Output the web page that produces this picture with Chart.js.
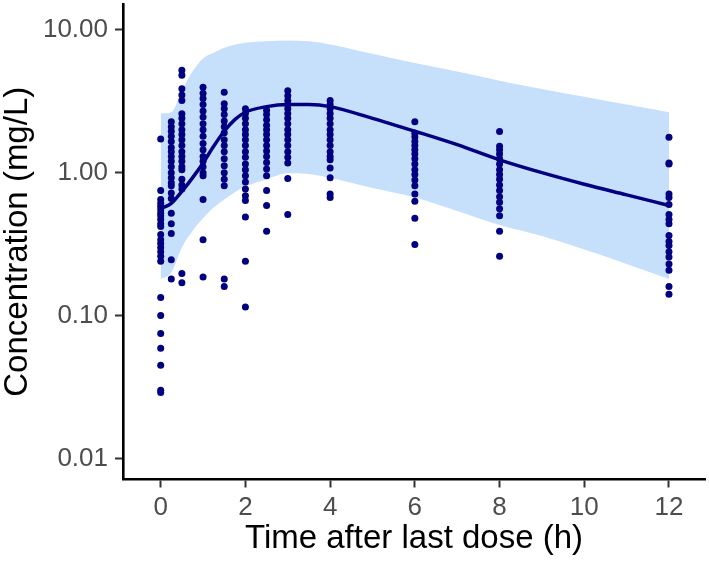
<!DOCTYPE html>
<html>
<head>
<meta charset="utf-8">
<script src="https://cdn.jsdelivr.net/npm/chart.js@4/dist/chart.umd.min.js"></script>
<style>
  html, body { margin: 0; padding: 0; background: #fff; }
  #pkChart { display: block; }
</style>
</head>
<body>
<canvas id="pkChart" width="709" height="561"></canvas>
<script>
// observed concentrations (mg/L) at each nominal sampling time (h)
const obsTimes = [0, 0.25, 0.5, 1, 1.5, 2, 2.5, 3, 4, 6, 8, 12];
const obsConc = [
  [1.72, 0.75, 0.65, 0.61, 0.58, 0.55, 0.52, 0.50, 0.47, 0.44, 0.42, 0.37, 0.34, 0.32, 0.30, 0.28, 0.26, 0.24, 0.134, 0.10, 0.075, 0.059, 0.045, 0.030, 0.029],
  [2.27, 2.1, 1.95, 1.8, 1.65, 1.5, 1.4, 1.3, 1.2, 1.1, 1.0, 0.92, 0.85, 0.81, 0.72, 0.66, 0.52, 0.44, 0.375, 0.246, 0.18],
  [5.2, 4.8, 3.86, 3.5, 3.2, 2.59, 2.4, 2.2, 2.0, 1.85, 1.7, 1.55, 1.4, 1.3, 1.2, 1.1, 1.05, 0.9, 0.82, 0.77, 0.197, 0.17],
  [3.96, 3.6, 3.3, 3.0, 2.7, 2.45, 2.2, 2.0, 1.8, 1.6, 1.45, 1.3, 1.2, 1.1, 1.0, 0.95, 0.65, 0.34, 0.186],
  [3.66, 3.04, 2.8, 2.55, 2.3, 2.1, 1.9, 1.7, 1.55, 1.4, 1.25, 1.12, 1.0, 0.9, 0.81, 0.18, 0.16],
  [2.8, 2.6, 2.4, 2.2, 2.0, 1.85, 1.7, 1.55, 1.4, 1.28, 1.15, 1.05, 0.95, 0.86, 0.77, 0.69, 0.64, 0.49, 0.24, 0.115],
  [2.73, 2.55, 2.35, 2.15, 2.0, 1.85, 1.7, 1.55, 1.42, 1.3, 1.18, 1.06, 0.95, 0.75, 0.59, 0.39],
  [3.75, 3.45, 3.2, 3.0, 2.8, 2.6, 2.4, 2.2, 2.0, 1.85, 1.7, 1.55, 1.4, 1.28, 1.17, 0.91, 0.51],
  [3.2, 3.0, 2.8, 2.6, 2.4, 2.2, 2.0, 1.85, 1.7, 1.55, 1.4, 1.3, 1.23, 1.08, 0.92, 0.71, 0.67],
  [2.27, 1.89, 1.78, 1.65, 1.55, 1.45, 1.35, 1.25, 1.15, 1.05, 0.97, 0.89, 0.81, 0.71, 0.63, 0.48, 0.315],
  [1.94, 1.53, 1.45, 1.35, 1.25, 1.15, 1.05, 0.97, 0.9, 0.82, 0.75, 0.68, 0.62, 0.56, 0.5, 0.39, 0.26],
  [1.77, 1.17, 1.15, 0.71, 0.67, 0.60, 0.51, 0.47, 0.44, 0.364, 0.33, 0.31, 0.28, 0.257, 0.23, 0.208, 0.16, 0.141]
];

// model prediction: median and 90% interval
const predTime   = [0, 0.25, 0.5, 0.75, 1, 1.25, 1.5, 1.75, 2, 2.5, 3, 3.5, 4, 5, 6, 7, 8, 9, 10, 11, 12];
const predMedian = [0.56, 0.61, 0.74, 0.92, 1.17, 1.53, 1.95, 2.35, 2.65, 2.9, 3.0, 3.0, 2.9, 2.4, 1.95, 1.57, 1.23, 1.0, 0.83, 0.7, 0.59];
const predLower  = [0.18, 0.20, 0.30, 0.39, 0.48, 0.57, 0.65, 0.73, 0.80, 0.90, 0.99, 0.98, 0.92, 0.78, 0.67, 0.54, 0.43, 0.36, 0.29, 0.23, 0.18];
const predUpper  = [2.6, 2.65, 3.75, 5.1, 6.3, 6.9, 7.5, 7.85, 8.1, 8.3, 8.4, 8.3, 7.9, 6.8, 5.85, 5.1, 4.4, 3.85, 3.4, 3.0, 2.65];

const xTicks = [0, 2, 4, 6, 8, 10, 12];
const yTicks = [0.01, 0.1, 1, 10];

const navy = '#000080';
const band = '#c6e0fc';
const font = "'Liberation Sans', Arial, sans-serif";

const obsPoints = [];
obsTimes.forEach((t, i) => obsConc[i].forEach(c => obsPoints.push({x: t, y: c})));
const toXY = vals => predTime.map((t, i) => ({x: t, y: vals[i]}));

new Chart(document.getElementById('pkChart'), {
  type: 'line',
  data: {
    datasets: [
      { data: toXY(predUpper), fill: '+1', backgroundColor: band, borderWidth: 0, pointRadius: 0, cubicInterpolationMode: 'monotone', order: 4 },
      { data: toXY(predLower), fill: false, borderWidth: 0, pointRadius: 0, cubicInterpolationMode: 'monotone', order: 3 },
      { data: obsPoints, showLine: false, pointRadius: 3.5, pointBackgroundColor: navy, pointBorderWidth: 0, order: 2 },
      { data: toXY(predMedian), borderColor: navy, borderWidth: 3.5, pointRadius: 0, fill: false, cubicInterpolationMode: 'monotone', order: 1 }
    ]
  },
  options: {
    responsive: false,
    animation: false,
    layout: { padding: { top: 0, right: 3, left: 0, bottom: 0 } },
    plugins: { legend: { display: false }, tooltip: { enabled: false } },
    scales: {
      x: {
        type: 'linear',
        min: -0.89,
        max: 12.85,
        afterBuildTicks: s => { s.ticks = xTicks.map(v => ({value: v})); },
        afterFit: s => { s.height = 81.5; s.paddingLeft = 0; s.paddingRight = 0; },
        border: { display: true, color: '#000', width: 2.6 },
        grid: { drawOnChartArea: false, drawTicks: true, tickLength: 8, tickWidth: 2, tickColor: '#333' },
        ticks: { color: '#4d4d4d', font: { family: font, size: 26 }, padding: 5, maxRotation: 0 },
        title: { display: true, text: 'Time after last dose (h)', color: '#000', font: { family: font, size: 33, lineHeight: 1 }, padding: { top: 0, bottom: 6 } }
      },
      y: {
        type: 'logarithmic',
        min: 0.00713,
        max: 15.15,
        afterBuildTicks: s => { s.ticks = yTicks.map(v => ({value: v})); },
        afterFit: s => { s.width = 123; s.paddingTop = 0; s.paddingBottom = 0; },
        border: { display: true, color: '#000', width: 2.6 },
        grid: { drawOnChartArea: false, drawTicks: true, tickLength: 8, tickWidth: 2, tickColor: '#333' },
        ticks: { color: '#4d4d4d', font: { family: font, size: 26 }, padding: 7, callback: v => Number(v).toFixed(2) },
        title: { display: true, text: 'Concentration (mg/L)', color: '#000', font: { family: font, size: 33, lineHeight: 1 }, padding: { top: 1, bottom: 0 } }
      }
    }
  }
});
</script>
</body>
</html>
